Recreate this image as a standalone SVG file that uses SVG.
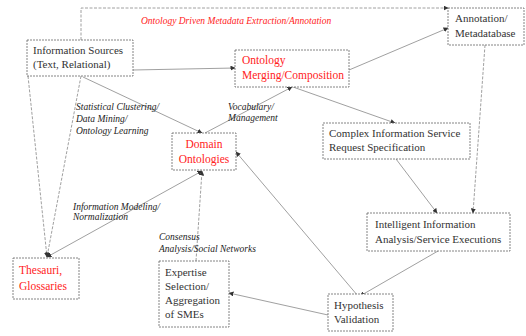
<svg xmlns="http://www.w3.org/2000/svg" width="526" height="336" viewBox="0 0 526 336" font-family="Liberation Serif, Times New Roman, DejaVu Serif, serif">
  <style>
    .box { fill: #fff; stroke: #666; stroke-width: 0.8; stroke-dasharray: 2 1; }
    .t { font-family: 'Liberation Serif', 'DejaVu Serif', serif; font-size: 11px; fill: #333; }
    .r { fill: #f22; font-size: 11.5px; }
    .lbl { font-family: 'Liberation Serif', 'DejaVu Serif', serif; font-size: 9.5px; font-style: italic; fill: #222; }
    .red { fill: #f22; }
    .conn line, .conn polyline { fill: none; stroke: #888; stroke-width: 0.8; }
    .dash { stroke-dasharray: 3 1.5; }
  </style>
  <defs>
    <marker id="ah" viewBox="0 0 10 10" refX="9" refY="5" markerWidth="5" markerHeight="5" markerUnits="userSpaceOnUse" orient="auto">
      <path d="M0,0 L10,5 L0,10 z" fill="#333"/>
    </marker>
    <marker id="ahs" viewBox="0 0 10 10" refX="1" refY="5" markerWidth="5" markerHeight="5" markerUnits="userSpaceOnUse" orient="auto">
      <path d="M10,0 L0,5 L10,10 z" fill="#333"/>
    </marker>
  </defs>
  <rect width="526" height="336" fill="#fff"/>

  <g id="connectors" class="conn">
    <polyline class="dash" points="81,40 81,8 448,8" marker-end="url(#ah)"/>
    <line class="dash" x1="28" y1="76" x2="47" y2="257" marker-end="url(#ah)"/>
    <line class="dash" x1="81" y1="76" x2="47" y2="257" marker-end="url(#ah)"/>
    <line x1="202" y1="171" x2="47" y2="257" marker-start="url(#ahs)" marker-end="url(#ah)"/>
    <line x1="83" y1="77" x2="202" y2="133" marker-end="url(#ah)"/>
    <line x1="205" y1="133" x2="292" y2="87" marker-end="url(#ah)"/>
    <line x1="293" y1="87" x2="395" y2="123" marker-end="url(#ah)"/>
    <line x1="133" y1="70" x2="235" y2="68" marker-end="url(#ah)"/>
    <line x1="349" y1="70" x2="448" y2="28" marker-end="url(#ah)"/>
    <line class="dash" x1="485" y1="45" x2="473" y2="213" marker-end="url(#ah)"/>
    <line x1="396" y1="159" x2="437" y2="213" marker-end="url(#ah)"/>
    <line x1="438" y1="251" x2="360" y2="296" marker-end="url(#ah)"/>
    <line x1="358" y1="296" x2="236" y2="152" marker-end="url(#ah)"/>
    <line x1="328" y1="315" x2="229" y2="293" marker-end="url(#ah)"/>
    <line class="dash" x1="196" y1="261" x2="202" y2="171" marker-end="url(#ah)"/>
  </g>

  <g id="edge-labels">
    <text class="lbl red" x="141" y="24">Ontology Driven Metadata Extraction/Annotation</text>
    <text class="lbl" x="76" y="110">Statistical Clustering/</text>
    <text class="lbl" x="76" y="122">Data Mining/</text>
    <text class="lbl" x="76" y="134">Ontology Learning</text>
    <text class="lbl" x="228" y="110">Vocabulary/</text>
    <text class="lbl" x="228" y="121">Management</text>
    <text class="lbl" x="73" y="210">Information Modeling/</text>
    <text class="lbl" x="73" y="220">Normalization</text>
    <text class="lbl" x="159" y="240">Consensus</text>
    <text class="lbl" x="159" y="252">Analysis/Social Networks</text>
  </g>

  <g id="information-sources">
    <rect class="box" x="27" y="40" width="106" height="36"/>
    <text class="t" x="33" y="54">Information Sources</text>
    <text class="t" x="33" y="68">(Text, Relational)</text>
  </g>

  <g id="ontology-merging">
    <rect class="box" x="235" y="50" width="114" height="37"/>
    <text class="t r" x="242" y="64">Ontology</text>
    <text class="t r" x="242" y="79">Merging/Composition</text>
  </g>

  <g id="annotation-metadatabase">
    <rect class="box" x="448" y="8" width="76" height="37"/>
    <text class="t" x="455" y="22">Annotation/</text>
    <text class="t" x="455" y="37">Metadatabase</text>
  </g>

  <g id="domain-ontologies">
    <rect class="box" x="172" y="133" width="64" height="37"/>
    <text class="t r" x="204" y="148" text-anchor="middle">Domain</text>
    <text class="t r" x="204" y="163" text-anchor="middle">Ontologies</text>
  </g>

  <g id="complex-request">
    <rect class="box" x="323" y="123" width="147" height="36"/>
    <text class="t" x="329" y="137">Complex Information Service</text>
    <text class="t" x="329" y="151">Request Specification</text>
  </g>

  <g id="intelligent-analysis">
    <rect class="box" x="367" y="213" width="143" height="38"/>
    <text class="t" x="375" y="228">Intelligent Information</text>
    <text class="t" x="375" y="243">Analysis/Service Executions</text>
  </g>

  <g id="hypothesis-validation">
    <rect class="box" x="328" y="294" width="65" height="37"/>
    <text class="t" x="334" y="309">Hypothesis</text>
    <text class="t" x="334" y="323">Validation</text>
  </g>

  <g id="expertise-selection">
    <rect class="box" x="159" y="261" width="70" height="66"/>
    <text class="t" x="165" y="276">Expertise</text>
    <text class="t" x="165" y="290">Selection/</text>
    <text class="t" x="165" y="304">Aggregation</text>
    <text class="t" x="165" y="318">of SMEs</text>
  </g>

  <g id="thesauri-glossaries">
    <rect class="box" x="13" y="258" width="66" height="41"/>
    <text class="t r" x="19" y="274">Thesauri,</text>
    <text class="t r" x="19" y="290">Glossaries</text>
  </g>
</svg>
